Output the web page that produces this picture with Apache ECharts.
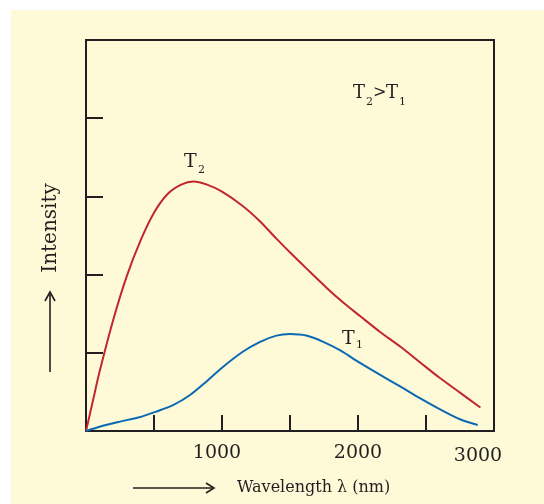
<!DOCTYPE html>
<html>
<head>
<meta charset="utf-8">
<script src="https://cdn.jsdelivr.net/npm/echarts@6/dist/echarts.min.js"></script>
<style>
  body { margin: 0; background: #fff; }
  #wrap { position: relative; width: 544px; height: 504px; background: #fff; }
  #paper { position: absolute; left: 11px; top: 10px; right: 0; bottom: 0; background: #fef9d7; }
  #main { position: absolute; left: 0; top: 0; width: 544px; height: 504px; }
</style>
</head>
<body>
<div id="wrap">
  <div id="paper"></div>
  <div id="main"></div>
</div>
<script>
// 波长 (nm) 与强度，从图上读出来的
var t2Wavelength = [0, 50, 100, 200, 300, 400, 500, 600, 700, 790, 890, 1000, 1150, 1280, 1400, 1525, 1650, 1770, 1900, 2015, 2160, 2310, 2455, 2600, 2750, 2900];
var t2Intensity  = [0, 0.38, 0.76, 1.42, 1.98, 2.43, 2.79, 3.03, 3.15, 3.19, 3.15, 3.06, 2.88, 2.68, 2.46, 2.24, 2.03, 1.83, 1.63, 1.47, 1.27, 1.08, 0.88, 0.68, 0.49, 0.30];

var t1Wavelength = [0, 100, 250, 400, 520, 640, 765, 890, 1000, 1150, 1280, 1400, 1500, 1620, 1745, 1870, 2015, 2160, 2310, 2455, 2600, 2750, 2880];
var t1Intensity  = [0, 0.055, 0.12, 0.18, 0.25, 0.33, 0.46, 0.64, 0.81, 1.01, 1.14, 1.22, 1.24, 1.22, 1.14, 1.03, 0.87, 0.72, 0.57, 0.42, 0.28, 0.15, 0.077];

var xTickLabels = [1000, 2000, 3000];

function pairs(xs, ys) {
  return xs.map(function (x, i) { return [x, ys[i]]; });
}

var ink = '#231f20';
var serif = 'DejaVu Serif';

// 普通文字和下标都单独放
function txt(x, y, s, size) {
  return {
    type: 'text', x: x, y: y,
    style: { text: s, fontFamily: serif, fontSize: size, fill: ink, verticalAlign: 'middle' }
  };
}

var myChart = echarts.init(document.getElementById('main'));

myChart.setOption({
  animation: false,
  grid: {
    left: 86,
    top: 40,
    right: 50,
    bottom: 73,
    show: true,
    borderColor: ink,
    borderWidth: 2
  },
  xAxis: {
    type: 'value',
    min: 0,
    max: 3000,
    interval: 500,
    axisLine: { show: true, lineStyle: { color: ink, width: 2 } },
    axisTick: { show: true, inside: true, length: 16, lineStyle: { color: ink, width: 2 } },
    splitLine: { show: false },
    axisLabel: {
      margin: 13,
      color: ink,
      fontFamily: serif,
      fontSize: 19,
      formatter: function (v) {
        if (xTickLabels.indexOf(v) < 0) return '';
        if (v === 3000) return '{c|' + v + '}';
        if (v === 1000) return '{a|' + v + '}';
        return '{b|' + v + '}';
      },
      rich: {
        a: { fontFamily: serif, fontSize: 19, color: ink, padding: [0, 10, 0, 0] },
        b: { fontFamily: serif, fontSize: 19, color: ink },
        c: { fontFamily: serif, fontSize: 19, color: ink, padding: [3, 32, 0, 0] }
      }
    }
  },
  yAxis: {
    type: 'value',
    min: 0,
    max: 5,
    interval: 1,
    axisLine: { show: true, lineStyle: { color: ink, width: 2 } },
    axisTick: { show: true, inside: true, length: 17, lineStyle: { color: ink, width: 2 } },
    splitLine: { show: false },
    axisLabel: { show: false }
  },
  series: [
    {
      name: 'T2',
      type: 'line',
      data: pairs(t2Wavelength, t2Intensity),
      smooth: 0.3,
      showSymbol: false,
      lineStyle: { color: '#c1272d', width: 2 }
    },
    {
      name: 'T1',
      type: 'line',
      data: pairs(t1Wavelength, t1Intensity),
      smooth: 0.3,
      showSymbol: false,
      lineStyle: { color: '#0b69b3', width: 2 }
    }
  ],
  graphic: [
    // 曲线标注
    txt(184, 162, 'T', 19),
    txt(198, 170, '2', 11),
    txt(342, 339, 'T', 19),
    txt(356, 345, '1', 11),
    txt(353, 93, 'T', 18),
    txt(366, 102, '2', 11),
    txt(373, 93, '>', 16),
    txt(386, 93, 'T', 18),
    txt(399, 102, '1', 11),
    // 轴名称
    txt(237, 488, 'Wavelength λ (nm)', 16),
    {
      type: 'text', x: 51, y: 228, rotation: Math.PI / 2,
      style: { text: 'Intensity', fontFamily: serif, fontSize: 20, fill: ink, align: 'center', verticalAlign: 'middle' }
    },
    // 箭头
    {
      type: 'line', shape: { x1: 133, y1: 488, x2: 213, y2: 488 },
      style: { stroke: ink, lineWidth: 1.6 }
    },
    {
      type: 'polyline', shape: { points: [[206, 483], [214, 488], [206, 493]] },
      style: { stroke: ink, lineWidth: 1.6, fill: null }
    },
    {
      type: 'line', shape: { x1: 50, y1: 372, x2: 50, y2: 293 },
      style: { stroke: ink, lineWidth: 1.6 }
    },
    {
      type: 'polyline', shape: { points: [[45, 301], [50, 292], [55, 301]] },
      style: { stroke: ink, lineWidth: 1.6, fill: null }
    }
  ]
});
</script>
</body>
</html>
